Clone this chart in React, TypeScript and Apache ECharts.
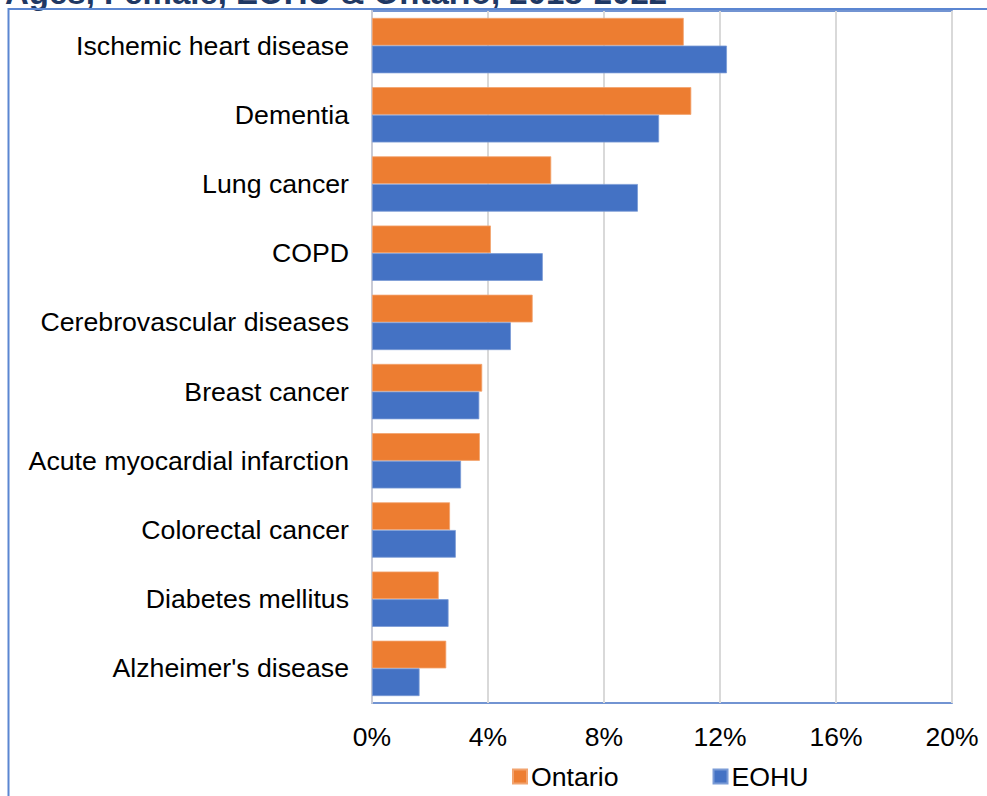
import React, { useEffect, useRef } from "react";
import * as echarts from "echarts";

const categories = [
  "Ischemic heart disease",
  "Dementia",
  "Lung cancer",
  "COPD",
  "Cerebrovascular diseases",
  "Breast cancer",
  "Acute myocardial infarction",
  "Colorectal cancer",
  "Diabetes mellitus",
  "Alzheimer's disease",
];
const ontario = [10.75, 11.01, 6.18, 4.1, 5.54, 3.8, 3.72, 2.69, 2.3, 2.56];
const eohu = [12.24, 9.9, 9.17, 5.89, 4.79, 3.7, 3.07, 2.89, 2.64, 1.64];
const seriesNames = ["Ontario", "EOHU"];
const titleText = "Ages, Female, EOHU & Ontario, 2018-2022";

const FONT = "'Liberation Sans', Arial, sans-serif";

export default function App() {
  const ref = useRef<HTMLDivElement>(null);
  useEffect(() => {
    document.body.style.margin = "0";
    const chart = echarts.init(ref.current!, null, { renderer: "svg" });
    chart.setOption({
      animation: false,
      backgroundColor: "#ffffff",
      textStyle: { fontFamily: FONT },
      grid: {
        left: 372,
        right: 35,
        top: 11,
        bottom: 93,
        show: true,
        borderColor: "#4472C4",
        borderWidth: 1.5,
        backgroundColor: "transparent",
      },
      legend: {
        data: seriesNames,
        left: 512,
        top: 763,
        padding: 0,
        itemWidth: 14,
        itemHeight: 14,
        itemGap: 94,
        icon: "rect",
        textStyle: { fontSize: 26.7, color: "#000", fontFamily: FONT, padding: [0, 0, 0, -1] },
      },
      xAxis: {
        type: "value",
        min: 0,
        max: 20,
        interval: 4,
        axisLine: { show: false },
        axisTick: { show: false },
        splitLine: { lineStyle: { color: "#d9d9d9", width: 2 } },
        axisLabel: {
          formatter: (v: number) => v + "%",
          fontSize: 26.5,
          color: "#000",
          margin: 20,
          fontFamily: FONT,
        },
      },
      yAxis: {
        type: "category",
        data: categories,
        inverse: true,
        axisLine: { show: true, lineStyle: { color: "#c9cbd6", width: 2 } },
        axisTick: { show: false },
        axisLabel: { fontSize: 26.7, color: "#000", margin: 23, fontFamily: FONT },
      },
      series: [
        {
          name: seriesNames[0],
          type: "bar",
          data: ontario,
          barGap: "0%",
          barCategoryGap: "20%",
          itemStyle: { color: "#ED7D31", borderColor: "#f2a36e", borderWidth: 0.8 },
        },
        {
          name: seriesNames[1],
          type: "bar",
          data: eohu,
          barGap: "0%",
          barCategoryGap: "20%",
          itemStyle: { color: "#4472C4", borderColor: "#7a9bd6", borderWidth: 0.8 },
        },
      ],
      graphic: [
        {
          type: "text",
          left: 5,
          top: -24,
          style: {
            text: titleText,
            font: "bold 33px " + FONT,
            fill: "#1F3864",
          },
        },
        {
          type: "line",
          shape: { x1: 8, y1: 9, x2: 987, y2: 9 },
          style: { stroke: "#5b86d1", lineWidth: 2 },
        },
        {
          type: "line",
          shape: { x1: 8.5, y1: 8, x2: 8.5, y2: 796 },
          style: { stroke: "#5b86d1", lineWidth: 2 },
        },
      ],
    });
    return () => chart.dispose();
  }, []);
  return (
    <div
      ref={ref}
      style={{ position: "absolute", left: 0, top: 0, width: 987, height: 796 }}
    />
  );
}
